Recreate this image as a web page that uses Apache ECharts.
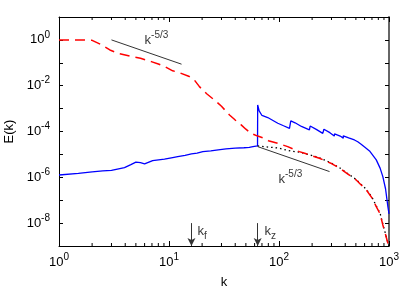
<!DOCTYPE html>
<html><head><meta charset="utf-8">
<script src="https://cdn.jsdelivr.net/npm/echarts@6/dist/echarts.min.js"></script>
<style>html,body{margin:0;padding:0;background:#fff}#c{width:415px;height:291px}</style>
</head><body><div id="c"></div>
<script>
// ---- data (k values and log10 E(k)) ----
const redK    = [1, 1.5, 2.0, 2.4, 2.9, 3.5, 4.6, 5.5, 6.9, 8, 9.1, 10.8, 12.4, 15.3, 17, 18.9, 22, 26.9, 30, 35.5, 40, 45.3, 50, 55.8, 64, 71, 80, 97, 120, 153, 171, 233, 300, 355, 420, 501, 550, 621, 700, 766, 830, 879, 930, 977, 1000];
const redLogE = [0, 0, -0.02, -0.2, -0.44, -0.6, -0.73, -0.8, -0.95, -1.05, -1.16, -1.35, -1.43, -1.6, -1.75, -2.04, -2.35, -2.69, -2.9, -3.28, -3.5, -3.71, -3.9, -4.08, -4.2, -4.27, -4.4, -4.51, -4.66, -4.88, -4.95, -5.17, -5.4, -5.6, -5.85, -6.11, -6.3, -6.55, -6.9, -7.28, -7.6, -8.08, -8.5, -8.88, -9.0];

const blueK    = [1, 1.5, 2, 2.5, 3, 3.94, 4.5, 5.0, 5.5, 6.0, 7.1, 9.1, 10.8, 12, 14, 16, 18, 20.3, 24, 28, 33, 40, 48, 53.7, 58, 63.8,
                  64, 66, 70, 79, 97.5, 110, 124.5, 128, 128, 140, 160, 189, 192, 192, 220, 250, 256, 256, 290, 318, 320, 320, 360, 384, 384, 430, 448, 448, 485, 520, 558, 600, 621, 665, 766, 830, 879, 930, 977, 1000];
const blueLogE = [-5.9, -5.83, -5.76, -5.72, -5.7, -5.58, -5.45, -5.34, -5.36, -5.41, -5.27, -5.21, -5.14, -5.1, -5.04, -4.98, -4.94, -4.88, -4.85, -4.8, -4.76, -4.73, -4.71, -4.69, -4.66, -4.63,
                  -2.84, -3.1, -3.3, -3.39, -3.64, -3.75, -3.86, -3.9, -3.54, -3.62, -3.78, -3.93, -3.94, -3.76, -3.92, -4.08, -4.1, -3.9, -4.05, -4.2, -4.22, -4.1, -4.2, -4.29, -4.19, -4.28, -4.34, -4.28, -4.37, -4.45, -4.56, -4.68, -4.73, -4.85, -5.24, -5.6, -5.97, -6.5, -7.28, -7.6];

const dotK    = [64, 70, 80, 90, 100, 115, 130, 153, 200, 233, 300, 355, 420, 501, 550, 621, 700, 766, 830, 879, 930, 977, 1000];
const dotLogE = [-4.63, -4.65, -4.68, -4.7, -4.73, -4.8, -4.86, -4.9, -5.05, -5.15, -5.38, -5.58, -5.83, -6.09, -6.28, -6.52, -6.87, -7.25, -7.57, -8.05, -8.47, -8.86, -9.0];

const slopeUpperK = [3, 13];
const slopeUpperLogE = [0, -1.06];
const slopeLowerK = [64, 288];
const slopeLowerLogE = [-4.66, -5.75];

const kf = 16, kz = 64;
const xMinorTicks = [2,3,4,5,6,7,8,9,20,30,40,50,60,70,80,90,200,300,400,500,600,700,800,900];

// ---- chart ----
const FONT = 'Liberation Sans, Arial, Helvetica, sans-serif';
const toPts = (ks, es) => ks.map((k, i) => [k, Math.pow(10, es[i])]);
const rich = {
  b: {fontSize: 13, lineHeight: 20, fontFamily: FONT, color: '#000'},
  s: {fontSize: 10, lineHeight: 10, verticalAlign: 'top', fontFamily: FONT, color: '#000'},
  u: {fontSize: 10, lineHeight: 12, verticalAlign: 'bottom', fontFamily: FONT, color: '#000'}
};
function expLabel(v, onlyEven) {
  const e = Math.round(Math.log10(v));
  if (onlyEven && e % 2 !== 0) return '';
  return '{b|10}{s|' + e + '}';
}
const axisLineBlack = {show: true, lineStyle: {color: '#000', width: 1}};

const option = {
  animation: false,
  backgroundColor: '#fff',
  grid: {left: 59, right: 26, top: 17, bottom: 45, outerBoundsMode: 'none', containLabel: false},
  xAxis: [
    {type: 'log', logBase: 10, min: 1, max: 1000, interval: 1, position: 'bottom',
     axisLine: axisLineBlack, splitLine: {show: false},
     axisTick: {show: true, inside: true, length: 5, lineStyle: {color: '#000'}},
     axisLabel: {margin: 6, formatter: v => expLabel(v, false), rich: rich},
     name: 'k', nameLocation: 'middle', nameGap: 30,
     nameTextStyle: {fontSize: 13, fontFamily: FONT, color: '#000'}},
    {type: 'log', logBase: 10, min: 1, max: 1000, interval: 1, position: 'top',
     axisLine: axisLineBlack, splitLine: {show: false},
     axisTick: {show: true, inside: true, length: 5, lineStyle: {color: '#000'}},
     axisLabel: {show: false}}
  ],
  yAxis: [
    {type: 'log', logBase: 10, min: 1e-9, max: 10, interval: 1, position: 'left',
     axisLine: axisLineBlack, splitLine: {show: false},
     axisTick: {show: true, inside: true, length: 4, lineStyle: {color: '#000'}},
     axisLabel: {margin: 9, formatter: v => expLabel(v, true), rich: rich},
     name: 'E(k)', nameLocation: 'middle', nameGap: 37,
     nameTextStyle: {fontSize: 13, fontFamily: FONT, color: '#000'}},
    {type: 'log', logBase: 10, min: 1e-9, max: 10, interval: 1, position: 'right',
     axisLine: {show: true, lineStyle: {color: '#666', width: 2}}, splitLine: {show: false},
     axisTick: {show: true, inside: true, length: 4, lineStyle: {color: '#000'}},
     axisLabel: {show: false}}
  ],
  series: [
    {type: 'custom', name: 'minorTicks', silent: true, clip: false,
     data: xMinorTicks.map(k => [k, 1e-9]),
     renderItem: function (params, api) {
       const k = api.value(0);
       const pb = api.coord([k, 1e-9]);
       const pt = api.coord([k, 10]);
       return {type: 'group', children: [
         {type: 'line', shape: {x1: pb[0], y1: pb[1], x2: pb[0], y2: pb[1] - 3}, style: {stroke: '#000', lineWidth: 1}},
         {type: 'line', shape: {x1: pt[0], y1: pt[1], x2: pt[0], y2: pt[1] + 3}, style: {stroke: '#000', lineWidth: 1}}
       ]};
     }},
    {type: 'line', name: 'blue', data: toPts(blueK, blueLogE), showSymbol: false, symbol: 'none',
     lineStyle: {color: '#0000ff', width: 1.3}, silent: true, clip: true},
    {type: 'line', name: 'dotted', data: toPts(dotK, dotLogE), showSymbol: false, symbol: 'none',
     lineStyle: {color: '#000', width: 1.3, type: [1.5, 3]}, silent: true},
    {type: 'line', name: 'red', data: toPts(redK, redLogE), showSymbol: false, symbol: 'none',
     lineStyle: {color: '#ff0000', width: 1.5, type: [10, 6]}, silent: true},
    {type: 'line', name: 'slope1', data: toPts(slopeUpperK, slopeUpperLogE), showSymbol: false, symbol: 'none',
     lineStyle: {color: '#333', width: 1}, silent: true},
    {type: 'line', name: 'slope2', data: toPts(slopeLowerK, slopeLowerLogE), showSymbol: false, symbol: 'none',
     lineStyle: {color: '#333', width: 1}, silent: true,
     markLine: {silent: true, symbol: ['none', 'arrow'], symbolSize: [6, 8],
       label: {show: false}, lineStyle: {color: '#333', width: 1, type: 'solid'},
       data: [
         [{coord: [kf, 1e-8]}, {coord: [kf, 1e-9]}],
         [{coord: [kz, 1e-8]}, {coord: [kz, 1e-9]}]
       ]}},
    {type: 'scatter', name: 'labels', symbolSize: 0, silent: true,
     label: {show: true, position: 'right', distance: 0, rich: rich},
     data: [
       {value: [6.0, Math.pow(10, -0.02)], label: {formatter: '{b|k}{s|-5/3}'}},
       {value: [99, Math.pow(10, -6.09)], label: {formatter: '{b|k}{s|-5/3}'}},
       {value: [18.2, Math.pow(10, -8.37)], label: {formatter: '{b|k}{u|f}'}},
       {value: [73.8, Math.pow(10, -8.37)], label: {formatter: '{b|k}{u|z}'}}
     ]}
  ]
};
const chart = echarts.init(document.getElementById('c'), null, {renderer: 'canvas'});
chart.setOption(option);
</script></body></html>
